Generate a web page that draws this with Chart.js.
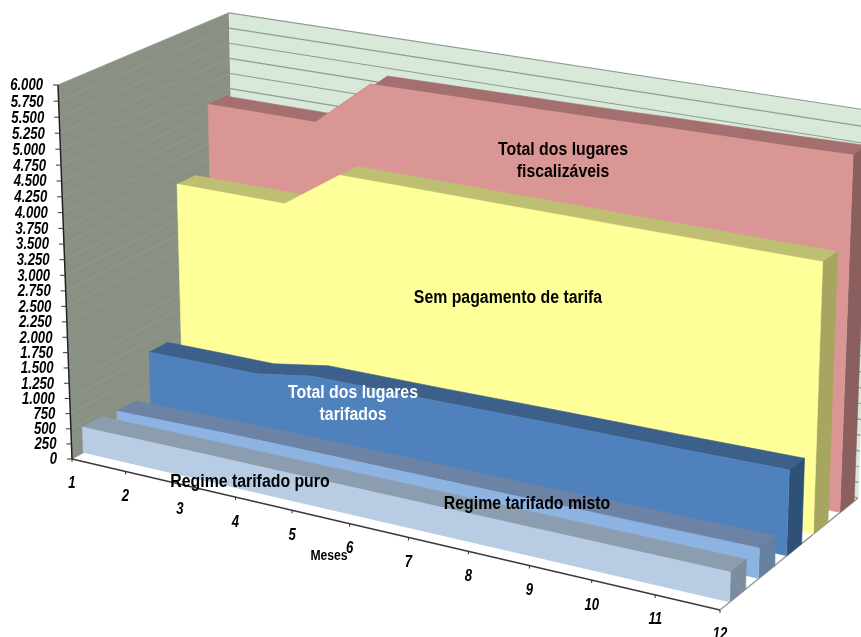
<!DOCTYPE html>
<html>
<head>
<meta charset="utf-8">
<title>Lugares por mês</title>
<script src="https://cdn.jsdelivr.net/npm/chart.js@4/dist/chart.umd.min.js"></script>
<style>
  html, body { margin: 0; padding: 0; background: #fff; }
  canvas { display: block; }
</style>
</head>
<body>
<canvas id="chart" width="861" height="637"></canvas>
<script>
const months = ["1", "2", "3", "4", "5", "6", "7", "8", "9", "10", "11", "12"];
const valueTicks = [0, 250, 500, 750, 1000, 1250, 1500, 1750, 2000, 2250, 2500, 2750, 3000,
  3250, 3500, 3750, 4000, 4250, 4500, 4750, 5000, 5250, 5500, 5750, 6000];
const valueLabels = ["0", "250", "500", "750", "1.000", "1.250", "1.500", "1.750", "2.000",
  "2.250", "2.500", "2.750", "3.000", "3.250", "3.500", "3.750", "4.000", "4.250", "4.500",
  "4.750", "5.000", "5.250", "5.500", "5.750", "6.000"];

const regimePuro = [426, 430, 435, 438, 440, 443, 446, 448, 450, 453, 456, 459];
const regimeMisto = [377, 390, 410, 420, 425, 430, 435, 440, 450, 455, 465, 473];
const totalTarifados = [1060, 1070, 1075, 1230, 1240, 1250, 1265, 1280, 1290, 1300, 1315, 1330];
const semPagamento = [3590, 3590, 3590, 4210, 4210, 4205, 4200, 4200, 4195, 4195, 4190, 4190];
const totalFiscalizaveis = [4660, 4660, 4660, 5420, 5430, 5440, 5450, 5460, 5480, 5490, 5500, 5520];

const maxValue = 6000;

// camera: floor origin, axis ends and the perspective weight of each axis
const origin = { x: 72, y: 459 };
const monthEnd = { x: 720, y: 610 };
const valueEnd = { x: 58, y: 85 };
const depthEnd = { x: 236.3, y: 366.6 };
const monthPersp = -0.1, valuePersp = -0.035, depthPersp = 0.0645;

function project(m, value, depth) {
  const u = m / (months.length - 1), v = value / maxValue;
  const w = 1 + monthPersp * u + valuePersp * v + depthPersp * depth;
  const axis = k => origin[k]
    + u * ((1 + monthPersp) * monthEnd[k] - origin[k])
    + v * ((1 + valuePersp) * valueEnd[k] - origin[k])
    + depth * ((1 + depthPersp) * depthEnd[k] - origin[k]);
  return { x: axis("x") / w, y: axis("y") / w };
}

// drawn from the back row to the front one
const rows = [
  { values: totalFiscalizaveis, depth: 0.86, front: "#d99694", top: "#a36f6f", side: "#8c5f5f" },
  { values: semPagamento, depth: 0.66, front: "#ffff99", top: "#bfbf73", side: "#a6a660" },
  { values: totalTarifados, depth: 0.465, front: "#4f81bd", top: "#3c6089", side: "#2f5178" },
  { values: regimeMisto, depth: 0.265, front: "#8db3e2", top: "#6c83a6", side: "#66809f" },
  { values: regimePuro, depth: 0.065, front: "#b8cce4", top: "#8c9db0", side: "#7e8c9f" }
];
const rowDepth = 0.11;
const lastMonth = months.length - 1;

const datasets = [];
function shape(points, color) {
  datasets.push({
    data: points, showLine: true, fill: "shape", pointRadius: 0,
    backgroundColor: color, borderColor: color, borderWidth: 0.6, order: -datasets.length
  });
}
function line(points, color, width) {
  datasets.push({
    data: points, showLine: true, fill: false, pointRadius: 0,
    borderColor: color, borderWidth: width, order: -datasets.length
  });
}

// walls
shape([project(0, 0, 0), project(0, 0, 1), project(0, maxValue, 1), project(0, maxValue, 0)], "#899185");
shape([project(0, 0, 1), project(lastMonth, 0, 1), project(lastMonth, maxValue, 1), project(0, maxValue, 1)], "#d8e9d9");
valueTicks.forEach(v => {
  line([project(0, v, 0), project(0, v, 1)], "#949b90", 0.8);
  line([project(0, v, 1), project(lastMonth, v, 1)], "#8f9c92", 1.2);
});

// floor edges and axes
line([project(lastMonth, 0, 0), project(lastMonth, 0, 1)], "#9a9a9a", 1.5);
line([project(0, 0, 0), project(lastMonth, 0, 0)], "#3a3a3a", 1.5);
line([project(0, 0, 0), project(0, maxValue, 0)], "#222222", 1.5);

// extruded rows: top band, end cap, front face
rows.forEach(row => {
  const near = row.values.map((v, m) => project(m, v, row.depth));
  const far = row.values.map((v, m) => project(m, v, row.depth + rowDepth));
  shape(near.concat(far.slice().reverse()), row.top);
  shape([project(lastMonth, 0, row.depth), project(lastMonth, 0, row.depth + rowDepth),
    far[lastMonth], near[lastMonth]], row.side);
  shape([project(0, 0, row.depth)].concat(near, [project(lastMonth, 0, row.depth)]), row.front);
});

const tickFont = 'italic bold 16px "Liberation Sans"';
const labelFont = 'bold 17.5px "Liberation Sans"';

// series captions: text, centre, colour
const captions = [
  ["Total dos lugares", 563, 150, "#000"],
  ["fiscalizáveis", 563, 172, "#000"],
  ["Sem pagamento de tarifa", 508, 298, "#000"],
  ["Total dos lugares", 353, 393, "#fff"],
  ["tarifados", 353, 415, "#fff"],
  ["Regime tarifado puro", 250, 482, "#000"],
  ["Regime tarifado misto", 527, 504, "#000"]
];

function drawText(ctx, text, x, y, font, align, color, squeeze) {
  ctx.save();
  ctx.translate(x, y);
  ctx.scale(squeeze, 1);
  ctx.font = font;
  ctx.textAlign = align;
  ctx.textBaseline = "middle";
  ctx.fillStyle = color;
  ctx.fillText(text, 0, 0);
  ctx.restore();
}

const axisText = {
  id: "axisText",
  afterDatasetsDraw(chart) {
    const ctx = chart.ctx;
    const sx = chart.scales.x, sy = chart.scales.y;
    ctx.save();
    ctx.strokeStyle = "#333";
    ctx.lineWidth = 1;
    valueTicks.forEach((v, i) => {
      const p = project(0, v, 0);
      const px = sx.getPixelForValue(p.x), py = sy.getPixelForValue(p.y);
      ctx.beginPath();
      ctx.moveTo(px - 5, py);
      ctx.lineTo(px, py);
      ctx.stroke();
      drawText(ctx, valueLabels[i], px - 15, py + 1, tickFont, "right", "#000", 0.82);
    });
    months.forEach((label, m) => {
      const p = project(m, 0, 0);
      const px = sx.getPixelForValue(p.x), py = sy.getPixelForValue(p.y);
      ctx.beginPath();
      ctx.moveTo(px, py);
      ctx.lineTo(px, py + 3);
      ctx.stroke();
      drawText(ctx, label, px, py + 25, tickFont, "center", "#000", 0.82);
    });
    ctx.restore();
    captions.forEach(c => drawText(ctx, c[0], c[1], c[2], labelFont, "center", c[3], 0.905));
    drawText(ctx, "Meses", 329, 556, 'bold 14px "Liberation Sans"', "center", "#000", 0.87);
  }
};

new Chart(document.getElementById("chart"), {
  type: "scatter",
  data: { datasets },
  options: {
    responsive: false,
    animation: false,
    layout: { padding: 0 },
    plugins: { legend: { display: false }, tooltip: { enabled: false } },
    scales: {
      x: { type: "linear", display: false, min: 0, max: 861 },
      y: { type: "linear", display: false, min: 0, max: 637, reverse: true }
    }
  },
  plugins: [axisText]
});
</script>
</body>
</html>
